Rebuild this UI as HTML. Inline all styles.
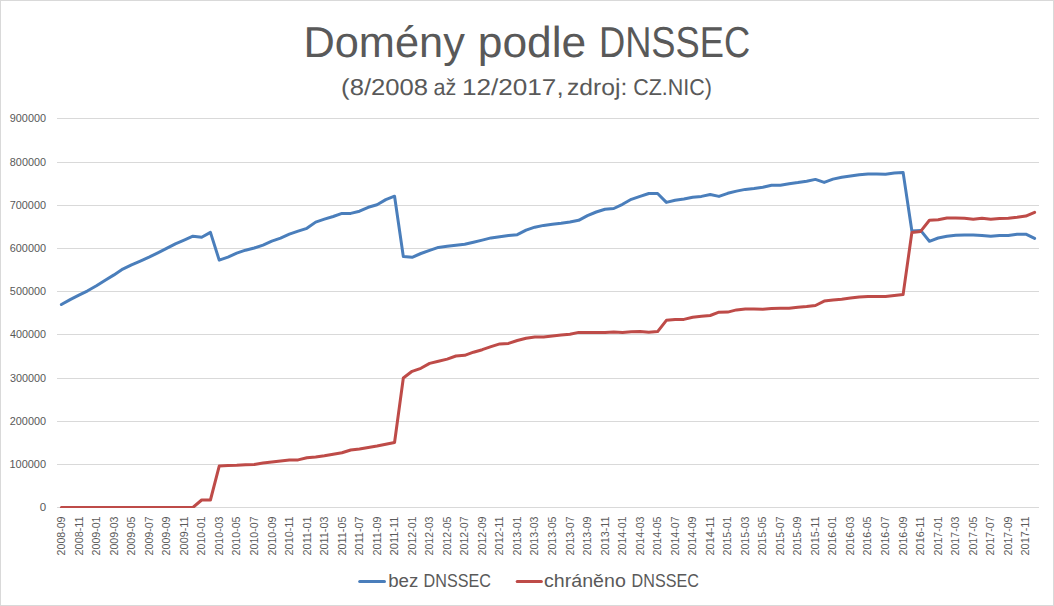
<!DOCTYPE html>
<html><head><meta charset="utf-8"><title>Domény podle DNSSEC</title>
<style>html,body{margin:0;padding:0;background:#fff;overflow:hidden;}svg{display:block;}text{font-family:"Liberation Sans", sans-serif;}.gp{text-rendering:geometricPrecision;}</style>
</head><body>
<svg width="1054" height="606" viewBox="0 0 1054 606">
<rect x="0" y="0" width="1054" height="606" fill="#fff"/>
<rect x="0.5" y="0.5" width="1053" height="605" fill="none" stroke="#d9d9d9" stroke-width="1"/>
<text class="gp" x="303.44" y="56.80" font-size="43.40" fill="#595959" textLength="161.44" lengthAdjust="spacingAndGlyphs">Domény</text>
<text class="gp" x="477.74" y="56.80" font-size="43.40" fill="#595959" textLength="108.53" lengthAdjust="spacingAndGlyphs">podle</text>
<text class="gp" x="598.92" y="56.80" font-size="43.40" fill="#595959" textLength="151.36" lengthAdjust="spacingAndGlyphs">DNSSEC</text>
<text class="gp" x="341.11" y="94.60" font-size="23.00" fill="#595959" textLength="87.01" lengthAdjust="spacingAndGlyphs">(8/2008</text>
<text class="gp" x="433.48" y="94.60" font-size="23.00" fill="#595959" textLength="22.79" lengthAdjust="spacingAndGlyphs">až</text>
<text class="gp" x="461.91" y="94.60" font-size="23.00" fill="#595959" textLength="101.74" lengthAdjust="spacingAndGlyphs">12/2017,</text>
<text class="gp" x="567.00" y="94.60" font-size="23.00" fill="#595959" textLength="60.25" lengthAdjust="spacingAndGlyphs">zdroj:</text>
<text class="gp" x="633.21" y="94.60" font-size="23.00" fill="#595959" textLength="78.83" lengthAdjust="spacingAndGlyphs">CZ.NIC)</text>
<rect x="57" y="118" width="982" height="1" fill="#d9d9d9"/>
<rect x="57" y="162" width="982" height="1" fill="#d9d9d9"/>
<rect x="57" y="205" width="982" height="1" fill="#d9d9d9"/>
<rect x="57" y="248" width="982" height="1" fill="#d9d9d9"/>
<rect x="57" y="291" width="982" height="1" fill="#d9d9d9"/>
<rect x="57" y="334" width="982" height="1" fill="#d9d9d9"/>
<rect x="57" y="378" width="982" height="1" fill="#d9d9d9"/>
<rect x="57" y="421" width="982" height="1" fill="#d9d9d9"/>
<rect x="57" y="464" width="982" height="1" fill="#d9d9d9"/>
<rect x="57" y="507" width="982" height="1" fill="#d9d9d9"/>
<text x="9.79" y="121.80" font-size="11.45" fill="#595959" textLength="36.23" lengthAdjust="spacingAndGlyphs">900000</text>
<text x="9.83" y="165.80" font-size="11.45" fill="#595959" textLength="36.20" lengthAdjust="spacingAndGlyphs">800000</text>
<text x="9.74" y="208.80" font-size="11.45" fill="#595959" textLength="36.28" lengthAdjust="spacingAndGlyphs">700000</text>
<text x="9.75" y="251.80" font-size="11.45" fill="#595959" textLength="36.28" lengthAdjust="spacingAndGlyphs">600000</text>
<text x="9.87" y="294.80" font-size="11.45" fill="#595959" textLength="36.16" lengthAdjust="spacingAndGlyphs">500000</text>
<text x="10.05" y="337.80" font-size="11.45" fill="#595959" textLength="35.97" lengthAdjust="spacingAndGlyphs">400000</text>
<text x="9.89" y="381.80" font-size="11.45" fill="#595959" textLength="36.14" lengthAdjust="spacingAndGlyphs">300000</text>
<text x="9.75" y="424.80" font-size="11.45" fill="#595959" textLength="36.27" lengthAdjust="spacingAndGlyphs">200000</text>
<text x="9.47" y="467.80" font-size="11.45" fill="#595959" textLength="36.56" lengthAdjust="spacingAndGlyphs">100000</text>
<text x="39.75" y="510.80" font-size="11.45" fill="#595959" textLength="6.40" lengthAdjust="spacingAndGlyphs">0</text>
<text transform="translate(65.20,0) rotate(-90)" x="-555.43" y="0" font-size="11.45" fill="#595959" textLength="38.94" lengthAdjust="spacingAndGlyphs">2008-09</text>
<text transform="translate(82.73,0) rotate(-90)" x="-555.43" y="0" font-size="11.45" fill="#595959" textLength="38.95" lengthAdjust="spacingAndGlyphs">2008-11</text>
<text transform="translate(100.26,0) rotate(-90)" x="-555.43" y="0" font-size="11.45" fill="#595959" textLength="38.95" lengthAdjust="spacingAndGlyphs">2009-01</text>
<text transform="translate(117.78,0) rotate(-90)" x="-555.43" y="0" font-size="11.45" fill="#595959" textLength="38.90" lengthAdjust="spacingAndGlyphs">2009-03</text>
<text transform="translate(135.31,0) rotate(-90)" x="-555.43" y="0" font-size="11.45" fill="#595959" textLength="38.88" lengthAdjust="spacingAndGlyphs">2009-05</text>
<text transform="translate(152.84,0) rotate(-90)" x="-555.43" y="0" font-size="11.45" fill="#595959" textLength="38.97" lengthAdjust="spacingAndGlyphs">2009-07</text>
<text transform="translate(170.37,0) rotate(-90)" x="-555.43" y="0" font-size="11.45" fill="#595959" textLength="38.94" lengthAdjust="spacingAndGlyphs">2009-09</text>
<text transform="translate(187.90,0) rotate(-90)" x="-555.43" y="0" font-size="11.45" fill="#595959" textLength="38.95" lengthAdjust="spacingAndGlyphs">2009-11</text>
<text transform="translate(205.42,0) rotate(-90)" x="-555.43" y="0" font-size="11.45" fill="#595959" textLength="38.95" lengthAdjust="spacingAndGlyphs">2010-01</text>
<text transform="translate(222.95,0) rotate(-90)" x="-555.43" y="0" font-size="11.45" fill="#595959" textLength="38.90" lengthAdjust="spacingAndGlyphs">2010-03</text>
<text transform="translate(240.48,0) rotate(-90)" x="-555.43" y="0" font-size="11.45" fill="#595959" textLength="38.88" lengthAdjust="spacingAndGlyphs">2010-05</text>
<text transform="translate(258.01,0) rotate(-90)" x="-555.43" y="0" font-size="11.45" fill="#595959" textLength="38.97" lengthAdjust="spacingAndGlyphs">2010-07</text>
<text transform="translate(275.54,0) rotate(-90)" x="-555.43" y="0" font-size="11.45" fill="#595959" textLength="38.94" lengthAdjust="spacingAndGlyphs">2010-09</text>
<text transform="translate(293.06,0) rotate(-90)" x="-555.43" y="0" font-size="11.45" fill="#595959" textLength="38.95" lengthAdjust="spacingAndGlyphs">2010-11</text>
<text transform="translate(310.59,0) rotate(-90)" x="-555.43" y="0" font-size="11.45" fill="#595959" textLength="38.95" lengthAdjust="spacingAndGlyphs">2011-01</text>
<text transform="translate(328.12,0) rotate(-90)" x="-555.43" y="0" font-size="11.45" fill="#595959" textLength="38.90" lengthAdjust="spacingAndGlyphs">2011-03</text>
<text transform="translate(345.65,0) rotate(-90)" x="-555.43" y="0" font-size="11.45" fill="#595959" textLength="38.88" lengthAdjust="spacingAndGlyphs">2011-05</text>
<text transform="translate(363.18,0) rotate(-90)" x="-555.43" y="0" font-size="11.45" fill="#595959" textLength="38.97" lengthAdjust="spacingAndGlyphs">2011-07</text>
<text transform="translate(380.70,0) rotate(-90)" x="-555.43" y="0" font-size="11.45" fill="#595959" textLength="38.94" lengthAdjust="spacingAndGlyphs">2011-09</text>
<text transform="translate(398.23,0) rotate(-90)" x="-555.43" y="0" font-size="11.45" fill="#595959" textLength="38.95" lengthAdjust="spacingAndGlyphs">2011-11</text>
<text transform="translate(415.76,0) rotate(-90)" x="-555.43" y="0" font-size="11.45" fill="#595959" textLength="38.95" lengthAdjust="spacingAndGlyphs">2012-01</text>
<text transform="translate(433.29,0) rotate(-90)" x="-555.43" y="0" font-size="11.45" fill="#595959" textLength="38.90" lengthAdjust="spacingAndGlyphs">2012-03</text>
<text transform="translate(450.82,0) rotate(-90)" x="-555.43" y="0" font-size="11.45" fill="#595959" textLength="38.88" lengthAdjust="spacingAndGlyphs">2012-05</text>
<text transform="translate(468.34,0) rotate(-90)" x="-555.43" y="0" font-size="11.45" fill="#595959" textLength="38.97" lengthAdjust="spacingAndGlyphs">2012-07</text>
<text transform="translate(485.87,0) rotate(-90)" x="-555.43" y="0" font-size="11.45" fill="#595959" textLength="38.94" lengthAdjust="spacingAndGlyphs">2012-09</text>
<text transform="translate(503.40,0) rotate(-90)" x="-555.43" y="0" font-size="11.45" fill="#595959" textLength="38.95" lengthAdjust="spacingAndGlyphs">2012-11</text>
<text transform="translate(520.93,0) rotate(-90)" x="-555.43" y="0" font-size="11.45" fill="#595959" textLength="38.95" lengthAdjust="spacingAndGlyphs">2013-01</text>
<text transform="translate(538.46,0) rotate(-90)" x="-555.43" y="0" font-size="11.45" fill="#595959" textLength="38.90" lengthAdjust="spacingAndGlyphs">2013-03</text>
<text transform="translate(555.98,0) rotate(-90)" x="-555.43" y="0" font-size="11.45" fill="#595959" textLength="38.88" lengthAdjust="spacingAndGlyphs">2013-05</text>
<text transform="translate(573.51,0) rotate(-90)" x="-555.43" y="0" font-size="11.45" fill="#595959" textLength="38.97" lengthAdjust="spacingAndGlyphs">2013-07</text>
<text transform="translate(591.04,0) rotate(-90)" x="-555.43" y="0" font-size="11.45" fill="#595959" textLength="38.94" lengthAdjust="spacingAndGlyphs">2013-09</text>
<text transform="translate(608.57,0) rotate(-90)" x="-555.43" y="0" font-size="11.45" fill="#595959" textLength="38.95" lengthAdjust="spacingAndGlyphs">2013-11</text>
<text transform="translate(626.10,0) rotate(-90)" x="-555.43" y="0" font-size="11.45" fill="#595959" textLength="38.95" lengthAdjust="spacingAndGlyphs">2014-01</text>
<text transform="translate(643.62,0) rotate(-90)" x="-555.43" y="0" font-size="11.45" fill="#595959" textLength="38.90" lengthAdjust="spacingAndGlyphs">2014-03</text>
<text transform="translate(661.15,0) rotate(-90)" x="-555.43" y="0" font-size="11.45" fill="#595959" textLength="38.88" lengthAdjust="spacingAndGlyphs">2014-05</text>
<text transform="translate(678.68,0) rotate(-90)" x="-555.43" y="0" font-size="11.45" fill="#595959" textLength="38.97" lengthAdjust="spacingAndGlyphs">2014-07</text>
<text transform="translate(696.21,0) rotate(-90)" x="-555.43" y="0" font-size="11.45" fill="#595959" textLength="38.94" lengthAdjust="spacingAndGlyphs">2014-09</text>
<text transform="translate(713.74,0) rotate(-90)" x="-555.43" y="0" font-size="11.45" fill="#595959" textLength="38.95" lengthAdjust="spacingAndGlyphs">2014-11</text>
<text transform="translate(731.26,0) rotate(-90)" x="-555.43" y="0" font-size="11.45" fill="#595959" textLength="38.95" lengthAdjust="spacingAndGlyphs">2015-01</text>
<text transform="translate(748.79,0) rotate(-90)" x="-555.43" y="0" font-size="11.45" fill="#595959" textLength="38.90" lengthAdjust="spacingAndGlyphs">2015-03</text>
<text transform="translate(766.32,0) rotate(-90)" x="-555.43" y="0" font-size="11.45" fill="#595959" textLength="38.88" lengthAdjust="spacingAndGlyphs">2015-05</text>
<text transform="translate(783.85,0) rotate(-90)" x="-555.43" y="0" font-size="11.45" fill="#595959" textLength="38.97" lengthAdjust="spacingAndGlyphs">2015-07</text>
<text transform="translate(801.38,0) rotate(-90)" x="-555.43" y="0" font-size="11.45" fill="#595959" textLength="38.94" lengthAdjust="spacingAndGlyphs">2015-09</text>
<text transform="translate(818.90,0) rotate(-90)" x="-555.43" y="0" font-size="11.45" fill="#595959" textLength="38.95" lengthAdjust="spacingAndGlyphs">2015-11</text>
<text transform="translate(836.43,0) rotate(-90)" x="-555.43" y="0" font-size="11.45" fill="#595959" textLength="38.95" lengthAdjust="spacingAndGlyphs">2016-01</text>
<text transform="translate(853.96,0) rotate(-90)" x="-555.43" y="0" font-size="11.45" fill="#595959" textLength="38.90" lengthAdjust="spacingAndGlyphs">2016-03</text>
<text transform="translate(871.49,0) rotate(-90)" x="-555.43" y="0" font-size="11.45" fill="#595959" textLength="38.88" lengthAdjust="spacingAndGlyphs">2016-05</text>
<text transform="translate(889.02,0) rotate(-90)" x="-555.43" y="0" font-size="11.45" fill="#595959" textLength="38.97" lengthAdjust="spacingAndGlyphs">2016-07</text>
<text transform="translate(906.54,0) rotate(-90)" x="-555.43" y="0" font-size="11.45" fill="#595959" textLength="38.94" lengthAdjust="spacingAndGlyphs">2016-09</text>
<text transform="translate(924.07,0) rotate(-90)" x="-555.43" y="0" font-size="11.45" fill="#595959" textLength="38.95" lengthAdjust="spacingAndGlyphs">2016-11</text>
<text transform="translate(941.60,0) rotate(-90)" x="-555.43" y="0" font-size="11.45" fill="#595959" textLength="38.95" lengthAdjust="spacingAndGlyphs">2017-01</text>
<text transform="translate(959.13,0) rotate(-90)" x="-555.43" y="0" font-size="11.45" fill="#595959" textLength="38.90" lengthAdjust="spacingAndGlyphs">2017-03</text>
<text transform="translate(976.66,0) rotate(-90)" x="-555.43" y="0" font-size="11.45" fill="#595959" textLength="38.88" lengthAdjust="spacingAndGlyphs">2017-05</text>
<text transform="translate(994.18,0) rotate(-90)" x="-555.43" y="0" font-size="11.45" fill="#595959" textLength="38.97" lengthAdjust="spacingAndGlyphs">2017-07</text>
<text transform="translate(1011.71,0) rotate(-90)" x="-555.43" y="0" font-size="11.45" fill="#595959" textLength="38.94" lengthAdjust="spacingAndGlyphs">2017-09</text>
<text transform="translate(1029.24,0) rotate(-90)" x="-555.43" y="0" font-size="11.45" fill="#595959" textLength="38.95" lengthAdjust="spacingAndGlyphs">2017-11</text>
<defs><clipPath id="pa"><rect x="50" y="100" width="1000" height="408"/></clipPath></defs>
<g clip-path="url(#pa)">
<polyline points="61.38,304.50 70.15,299.60 78.92,295.10 87.69,290.80 96.46,285.80 105.22,280.20 113.99,274.90 122.76,269.10 131.53,264.90 140.29,261.10 149.06,257.20 157.83,252.90 166.60,248.40 175.37,243.80 184.13,240.10 192.90,236.20 201.67,237.30 210.44,232.40 219.21,260.10 227.97,257.10 236.74,253.20 245.51,250.20 254.28,248.00 263.04,245.10 271.81,241.10 280.58,238.20 289.35,234.20 298.12,231.20 306.88,228.30 315.65,222.10 324.42,219.20 333.19,216.50 341.96,213.40 350.72,213.40 359.49,211.20 368.26,207.30 377.03,204.70 385.79,199.60 394.56,196.20 403.33,256.60 412.10,257.30 420.87,253.50 429.63,250.30 438.40,247.40 447.17,246.30 455.94,245.30 464.71,244.20 473.47,242.20 482.24,240.10 491.01,237.90 499.78,236.80 508.54,235.60 517.31,234.70 526.08,230.20 534.85,227.20 543.62,225.40 552.38,224.30 561.15,223.30 569.92,222.00 578.69,220.30 587.46,215.70 596.22,212.00 604.99,209.20 613.76,208.50 622.53,204.30 631.29,199.30 640.06,196.40 648.83,193.50 657.60,193.50 666.37,202.40 675.13,200.30 683.90,199.00 692.67,197.20 701.44,196.40 710.21,194.50 718.97,196.40 727.74,193.30 736.51,191.10 745.28,189.40 754.04,188.40 762.81,187.20 771.58,185.20 780.35,185.20 789.12,183.80 797.88,182.60 806.65,181.20 815.42,179.40 824.19,182.40 832.96,179.10 841.72,177.30 850.49,176.00 859.26,174.80 868.03,174.10 876.79,174.10 885.56,174.20 894.33,173.10 903.10,172.40 911.87,231.00 920.63,230.40 929.40,241.30 938.17,238.00 946.94,236.30 955.71,235.30 964.47,234.90 973.24,235.00 982.01,235.40 990.78,236.30 999.54,235.40 1008.31,235.40 1017.08,234.30 1025.85,234.20 1034.62,238.40" fill="none" stroke="#4a7ebb" stroke-width="3.00" stroke-linejoin="round" stroke-linecap="round"/>
<polyline points="61.38,507.50 70.15,507.50 78.92,507.50 87.69,507.50 96.46,507.50 105.22,507.50 113.99,507.50 122.76,507.50 131.53,507.50 140.29,507.50 149.06,507.50 157.83,507.50 166.60,507.50 175.37,507.50 184.13,507.50 192.90,507.50 201.67,500.00 210.44,500.00 219.21,466.10 227.97,465.40 236.74,465.20 245.51,464.80 254.28,464.40 263.04,463.00 271.81,461.90 280.58,460.90 289.35,460.10 298.12,459.90 306.88,457.80 315.65,456.90 324.42,455.80 333.19,454.20 341.96,452.80 350.72,450.00 359.49,449.00 368.26,447.40 377.03,446.00 385.79,444.20 394.56,442.50 403.33,378.00 412.10,371.30 420.87,368.30 429.63,363.40 438.40,361.30 447.17,359.10 455.94,356.00 464.71,355.30 473.47,352.20 482.24,349.70 491.01,346.70 499.78,343.90 508.54,343.40 517.31,340.50 526.08,338.20 534.85,337.10 543.62,337.10 552.38,336.10 561.15,335.10 569.92,334.20 578.69,332.40 587.46,332.40 596.22,332.40 604.99,332.40 613.76,331.90 622.53,332.50 631.29,331.70 640.06,331.60 648.83,332.30 657.60,331.60 666.37,320.30 675.13,319.40 683.90,319.40 692.67,317.30 701.44,316.30 710.21,315.50 718.97,312.20 727.74,312.10 736.51,309.90 745.28,309.00 754.04,309.00 762.81,309.30 771.58,308.40 780.35,308.20 789.12,308.20 797.88,307.30 806.65,306.60 815.42,305.50 824.19,301.10 832.96,300.00 841.72,299.20 850.49,298.10 859.26,297.10 868.03,296.60 876.79,296.50 885.56,296.40 894.33,295.50 903.10,294.60 911.87,232.40 920.63,231.40 929.40,220.30 938.17,219.70 946.94,218.00 955.71,218.00 964.47,218.20 973.24,219.30 982.01,218.20 990.78,219.30 999.54,218.60 1008.31,218.20 1017.08,217.30 1025.85,216.10 1034.62,212.30" fill="none" stroke="#be4b48" stroke-width="3.00" stroke-linejoin="round" stroke-linecap="round"/>
</g>
<line x1="359.7" y1="581.6" x2="384.5" y2="581.6" stroke="#4a7ebb" stroke-width="3.00" stroke-linecap="round"/>
<text x="388.20" y="586.80" font-size="18.70" fill="#595959" textLength="30.14" lengthAdjust="spacingAndGlyphs">bez</text>
<text x="423.58" y="586.80" font-size="18.70" fill="#595959" textLength="67.24" lengthAdjust="spacingAndGlyphs">DNSSEC</text>
<line x1="517.2" y1="581.6" x2="541.4" y2="581.6" stroke="#be4b48" stroke-width="3.00" stroke-linecap="round"/>
<text x="544.07" y="586.80" font-size="18.70" fill="#595959" textLength="81.76" lengthAdjust="spacingAndGlyphs">chráněno</text>
<text x="631.58" y="586.80" font-size="18.70" fill="#595959" textLength="67.24" lengthAdjust="spacingAndGlyphs">DNSSEC</text>
</svg>
</body></html>
